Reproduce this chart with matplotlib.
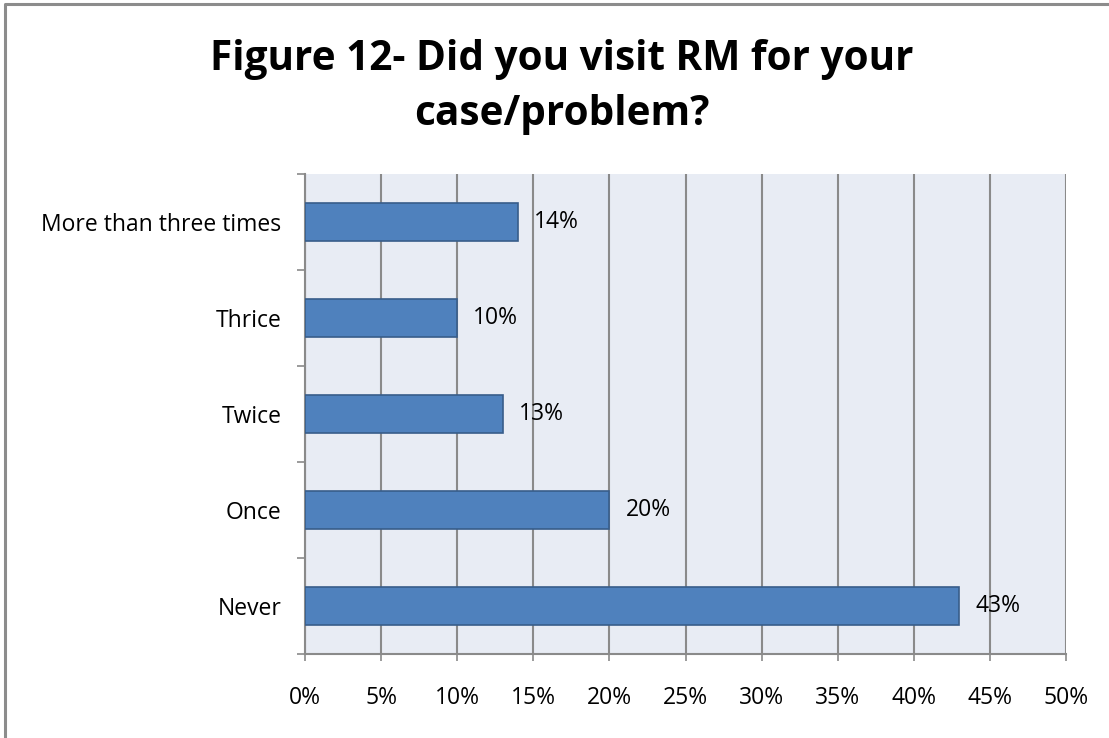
import matplotlib.pyplot as plt
from matplotlib.lines import Line2D
from matplotlib.ticker import MultipleLocator, FuncFormatter

categories = ["Never", "Once", "Twice", "Thrice", "More than three times"]
values = [43, 20, 13, 10, 14]
title_lines = ["Figure 12- Did you visit RM for your", "case/problem?"]

plt.rcParams['font.family'] = ['Open Sans', 'DejaVu Sans']

W, H = 1109, 738
fig = plt.figure(figsize=(W / 100, H / 100), dpi=100)
fig.patch.set_facecolor("white")

# chart border (only top and left edges visible in the crop)
fig.add_artist(Line2D([5 / W, 5 / W, 1.0], [0.0, 1 - 4 / H, 1 - 4 / H],
                      transform=fig.transFigure, color="#8c8c8c", linewidth=2.2))

ax = fig.add_axes([305 / W, 84 / H, 761 / W, 480 / H])
ax.set_facecolor("#e8ecf4")

y = range(len(categories))
ax.barh(y, values, height=0.4, color="#4f81bd", edgecolor="#385d8a", linewidth=1.2, zorder=3)
for yi, v in zip(y, values):
    ax.text(v + 1.05, yi, f"{v}%", va="center", ha="left", fontsize=16.5, zorder=4)

ax.set_xlim(0, 50)
ax.set_ylim(-0.5, len(categories) - 0.5)
ax.xaxis.set_major_locator(MultipleLocator(5))
ax.xaxis.set_major_formatter(FuncFormatter(lambda x, p: f"{int(x)}%"))
ax.grid(axis="x", color="#8a8a8a", linewidth=1.5, zorder=1)

ax.set_yticks([i - 0.5 for i in range(len(categories) + 1)])
ax.set_yticklabels([])
ax.set_yticks(list(y), minor=True)
ax.set_yticklabels(categories, minor=True, fontsize=16.5)
ax.tick_params(axis="y", which="minor", length=0, pad=17)
ax.tick_params(axis="y", which="major", length=5.5, width=1.2, color="#8a8a8a")
ax.tick_params(axis="x", length=5, width=1.2, color="#8a8a8a", labelsize=16.5, pad=18)

for s in ["top", "right"]:
    ax.spines[s].set_visible(False)
ax.spines["left"].set_color("#8a8a8a")
ax.spines["left"].set_linewidth(1.5)
ax.spines["bottom"].set_color("#8a8a8a")
ax.spines["bottom"].set_linewidth(1.5)

fig.text(562 / W, 1 - 70 / H, title_lines[0], ha="center", va="baseline",
         fontsize=29.2, fontweight="bold")
fig.text(562 / W, 1 - 125 / H, title_lines[1], ha="center", va="baseline",
         fontsize=29.2, fontweight="bold")

fig.savefig("out.png", dpi=100)
